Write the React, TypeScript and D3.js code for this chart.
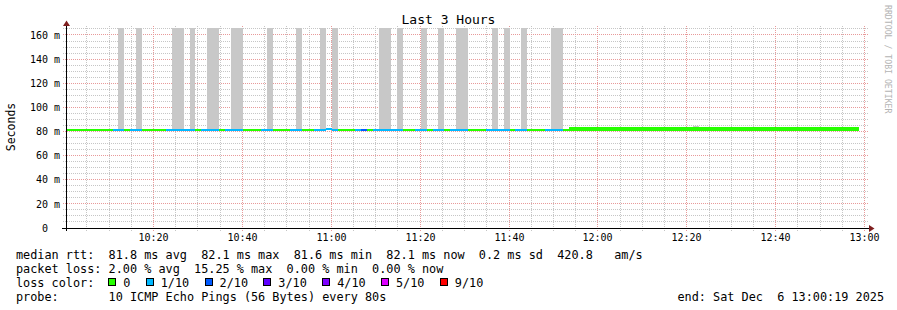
import React from "react";
import * as d3 from "d3";

const W = 897;
const H = 310;
const FONT = "'DejaVu Sans Mono', monospace";

// ---------- data ----------
const title = "Last 3 Hours";
const yAxisTitle = "Seconds";
const watermark = "RRDTOOL / TOBI OETIKER";
const graphStart = "2025-12-06T10:00:19";
const graphEnd = "2025-12-06T13:00:19";
const firstStepStart = "2025-12-06T10:00:07";
const stepSeconds = 80;
const yUpper = 165.8; // ms
const yMajorTicks = [0, 20, 40, 60, 80, 100, 120, 140, 160];
const yMinorTicks = [5, 10, 15, 25, 30, 35, 45, 50, 55, 65, 70, 75, 85, 90, 95, 105, 110, 115, 125, 130, 135, 145, 150, 155, 165];

// loss (tenths) per run of steps: [lossTenths, stepCount]
const lossRuns: [number, number][] = [
  [0, 8], [1, 2], [0, 1], [1, 2], [0, 4], [1, 5], [0, 1], [1, 3], [0, 1], [1, 3],
  [0, 3], [1, 2], [0, 3], [1, 2], [0, 2], [1, 4], [0, 3], [1, 1], [2, 1], [0, 1],
  [1, 5], [0, 2], [1, 2], [0, 1], [1, 2], [0, 1], [1, 3], [0, 3], [1, 4], [0, 1],
  [1, 2], [0, 3], [1, 3], [0, 50],
];

// median band per run of steps: [lowMs, highMs, stepCount]
const medianRuns: [number, number, number][] = [
  [80.4, 82.05, 44],
  [81.25, 82.9, 1],
  [80.4, 82.05, 40],
  [80.4, 83.6, 49],
];

// smoke per step: [stepIndex, lowMs, highMs]
const smokeBars: [number, number, number][] = [
  [9, 81, 170], [12, 81, 170], [18, 81, 170], [19, 81, 170], [21, 81, 170],
  [24, 81, 170], [25, 81, 170], [28, 81, 170], [29, 81, 170], [34, 81, 170],
  [39, 81, 170], [43, 81, 170], [45, 81, 170], [53, 81, 170], [54, 81, 170],
  [56, 81, 170], [60, 81, 170], [63, 81, 170], [66, 81, 170], [67, 81, 170],
  [72, 81, 170], [74, 81, 170], [77, 81, 170], [82, 81, 170], [83, 81, 170],
  [106, 82, 84.6],
];

const lossThresholds = [0, 1, 2, 3, 4, 5, 9];
const lossLabels = ["0", "1/10", "2/10", "3/10", "4/10", "5/10", "9/10"];
const lossColors = ["#26ff00", "#00b8ff", "#0059ff", "#5e00ff", "#7e00ff", "#dd00ff", "#ff0000"];

const legendRtt = "median rtt:  81.8 ms avg  82.1 ms max  81.6 ms min  82.1 ms now  0.2 ms sd  420.8   am/s";
const legendLoss = "packet loss: 2.00 % avg  15.25 % max  0.00 % min  0.00 % now";
const legendLossColor = "loss color:";
const legendProbe = "probe:       10 ICMP Echo Pings (56 Bytes) every 80s";
const legendEnd = "end: Sat Dec  6 13:00:19 2025";

// ---------- helpers ----------
function colorFor(loss: number) {
  let idx = 0;
  lossThresholds.forEach((t, i) => {
    if (loss >= t) idx = i;
  });
  return lossColors[idx];
}

export default function App() {
  const start = new Date(graphStart);
  const end = new Date(graphEnd);
  const first = new Date(firstStepStart);

  const x = d3.scaleTime().domain([start, end]).range([66, 866]);
  const y = d3.scaleLinear().domain([0, yUpper]).range([228, 28]);

  const stepT = (j: number) => new Date(first.getTime() + j * stepSeconds * 1000);
  const stepX0 = (j: number) => Math.max(x(start), x(stepT(j)));
  const stepX1 = (j: number) => x(stepT(j + 1));

  const losses: number[] = [];
  lossRuns.forEach(([l, n]) => {
    for (let i = 0; i < n; i++) losses.push(l);
  });
  const bands: [number, number][] = [];
  medianRuns.forEach(([lo, hi, n]) => {
    for (let i = 0; i < n; i++) bands.push([lo, hi]);
  });

  const minorTimes = d3.timeMinute.every(5)!.range(start, end);
  const majorTimes = d3.timeMinute.every(20)!.range(start, end);
  const fmt = d3.timeFormat("%H:%M");

  const px = (v: number) => Math.floor(v) + 0.5;
  const yClip = (v: number) => Math.max(y(yUpper), y(v));

  const minorColor = "#c6c6c6";
  const majorColor = "#e89a9a";
  const arrowColor = "#7f1f1f";

  // legend loss-color boxes
  const charW = 7.13;
  const boxX: number[] = [];
  let bx = 108.3;
  lossLabels.forEach((lab) => {
    boxX.push(bx);
    bx += 30.3 + lab.length * charW;
  });

  const legendFont = 11.84;

  return (
    <svg
      width={W}
      height={H}
      viewBox={`0 0 ${W} ${H}`}
      style={{ position: "absolute", left: 0, top: 0, background: "#ffffff" }}
      fontFamily={FONT}
    >
      <rect x={0} y={0} width={W} height={H} fill="#ffffff" />

      {/* minor grid */}
      <g stroke={minorColor} strokeWidth={1} strokeDasharray="1,1" shapeRendering="crispEdges">
        {yMinorTicks.map((v) => (
          <line key={"hy" + v} x1={63} x2={868} y1={px(y(v))} y2={px(y(v))} />
        ))}
        {minorTimes.map((t) => (
          <line key={"vx" + t.getTime()} x1={px(x(t))} x2={px(x(t))} y1={26} y2={231} />
        ))}
      </g>
      {/* major grid */}
      <g stroke={majorColor} strokeWidth={1} strokeDasharray="1,1" shapeRendering="crispEdges">
        {yMajorTicks.filter((v) => v > 0).map((v) => (
          <line key={"my" + v} x1={63} x2={868} y1={px(y(v))} y2={px(y(v))} />
        ))}
        {majorTimes.map((t) => (
          <line key={"mx" + t.getTime()} x1={px(x(t))} x2={px(x(t))} y1={26} y2={231} />
        ))}
      </g>

      {/* smoke */}
      <g fill="#c8c8c8" shapeRendering="crispEdges">
        {smokeBars.map(([j, lo, hi]) => (
          <rect
            key={"s" + j}
            x={stepX0(j)}
            width={stepX1(j) - stepX0(j)}
            y={yClip(hi)}
            height={y(lo) - yClip(hi)}
          />
        ))}
      </g>

      {/* median band coloured by loss */}
      <g shapeRendering="crispEdges">
        {losses.map((l, j) => (
          <rect
            key={"m" + j}
            x={stepX0(j)}
            width={stepX1(j) - stepX0(j)}
            y={y(bands[j][1])}
            height={y(bands[j][0]) - y(bands[j][1])}
            fill={colorFor(l)}
          />
        ))}
      </g>

      {/* axes */}
      <g stroke="#000" strokeWidth={1} shapeRendering="crispEdges">
        <line x1={62} x2={869} y1={228.5} y2={228.5} />
        <line x1={66.5} x2={66.5} y1={231} y2={25} />
        <line x1={62} x2={66} y1={228.5} y2={228.5} />
      </g>
      <path d="M66.5,20.5 L63,26 L70,26 Z" fill={arrowColor} />
      <path d="M874.5,228.5 L869,225 L869,232 Z" fill={arrowColor} />

      {/* y labels */}
      <g fontSize={10} fill="#000" textAnchor="end">
        {yMajorTicks.map((v) => (
          <text key={"yl" + v} x={v === 0 ? 48 : 60} y={y(v) + 3.7}>
            {v === 0 ? "0" : `${v} m`}
          </text>
        ))}
      </g>

      {/* x labels */}
      <g fontSize={10} fill="#000" textAnchor="middle">
        {majorTimes.map((t) => (
          <text key={"xl" + t.getTime()} x={px(x(t))} y={241}>
            {fmt(t)}
          </text>
        ))}
      </g>

      {/* title */}
      <text x={448.5} y={24} fontSize={13} textAnchor="middle" fill="#000">
        {title}
      </text>

      {/* y axis title */}
      <text
        transform={`translate(14.5,127) rotate(-90)`}
        fontSize={11.5}
        textAnchor="middle"
        fill="#000"
      >
        {yAxisTitle}
      </text>

      {/* watermark */}
      <text
        transform={`translate(884.5,5) rotate(90)`}
        fontSize={8.2}
        fill="#b4b4b4"
      >
        {watermark}
      </text>

      {/* legend */}
      <g fontSize={legendFont} fill="#000" style={{ whiteSpace: "pre" }}>
        <text x={16} y={258.5} xmlSpace="preserve">{legendRtt}</text>
        <text x={16} y={272.8} xmlSpace="preserve">{legendLoss}</text>
        <text x={16} y={287} xmlSpace="preserve">{legendLossColor}</text>
        <text x={16} y={301.2} xmlSpace="preserve">{legendProbe}</text>
        <text x={677.5} y={301.2} xmlSpace="preserve">{legendEnd}</text>
      </g>
      <g>
        {lossLabels.map((lab, i) => (
          <g key={"lg" + i}>
            <rect
              x={Math.round(boxX[i]) + 0.5}
              y={278.5}
              width={7}
              height={7}
              fill={lossColors[i]}
              stroke="#000"
              strokeWidth={1}
              shapeRendering="crispEdges"
            />
            <text x={boxX[i] + 15} y={287} fontSize={legendFont} fill="#000">
              {lab}
            </text>
          </g>
        ))}
      </g>
    </svg>
  );
}
